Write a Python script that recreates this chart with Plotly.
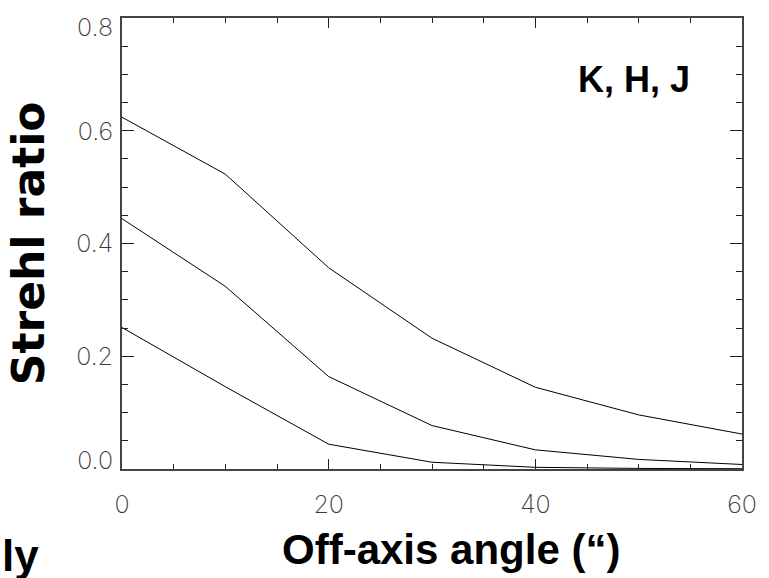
import plotly.graph_objects as go

# Data
angle = [0, 10, 20, 30, 40, 50, 60]
strehl_K = [0.624, 0.523, 0.357, 0.232, 0.145, 0.096, 0.062]
strehl_H = [0.444, 0.324, 0.164, 0.077, 0.034, 0.017, 0.008]
strehl_J = [0.251, 0.146, 0.044, 0.012, 0.003, 0.001, 0.0005]

x_ticks = [0, 20, 40, 60]
y_ticks = [0, 0.2, 0.4, 0.6, 0.8]
y_tick_labels = ["0.0", "0.2", "0.4", "0.6", "0.8"]
# the end labels sit slightly inside the frame in the reference
y_label_pos = [0.015, 0.2, 0.4, 0.6, 0.783]

W, H = 769, 578
L, R, T, B = 122, 19, 12, 109
pw, ph = W - L - R, H - T - B

fig = go.Figure()
for name, ys in [("K", strehl_K), ("H", strehl_H), ("J", strehl_J)]:
    fig.add_trace(go.Scatter(x=angle, y=ys, mode="lines", name=name,
                             line=dict(color="black", width=1), showlegend=False))

tickfont = dict(family="Inter, Liberation Sans, Arial", size=25, color="#3c3c3c", weight=200)

fig.update_xaxes(range=[0, 60], tickvals=x_ticks, ticklen=10, tickwidth=1,
                 minor=dict(dtick=5, ticks="inside", ticklen=5, tickcolor="#222"),
                 ticklabelstandoff=12, showline=True, linecolor="#444", linewidth=1.5,
                 mirror="ticks", ticks="inside", tickcolor="#222", showgrid=False,
                 zeroline=False, tickfont=tickfont)
fig.update_yaxes(range=[0, 0.8], tickvals=y_ticks, showticklabels=False,
                 ticklen=12, tickwidth=1,
                 minor=dict(dtick=0.05, ticks="inside", ticklen=6, tickcolor="#222"),
                 showline=True, linecolor="#444", linewidth=1.5, mirror="ticks",
                 ticks="inside", tickcolor="#222", showgrid=False, zeroline=False)
fig.update_layout(yaxis2=dict(overlaying="y", side="left", range=[0, 0.8],
                              tickvals=y_label_pos, ticktext=y_tick_labels,
                              ticks="", showline=False, showgrid=False, zeroline=False,
                              ticklabelstandoff=8, tickfont=tickfont))
fig.add_trace(go.Scatter(x=[None], y=[None], yaxis="y2", showlegend=False,
                         hoverinfo="skip"))

bold = "Liberation Sans, Arial, sans-serif"
fig.add_annotation(text="<b>K, H, J</b>", xref="paper", yref="paper",
                   x=(699 - L) / pw, y=(H - B - 52) / ph, showarrow=False,
                   font=dict(family=bold, size=36, color="black"))
fig.add_annotation(text="<b>Off-axis angle (“)</b>", xref="paper", yref="paper",
                   x=(455 - L) / pw, y=-(551 - (H - B)) / ph, showarrow=False,
                   xanchor="center", yanchor="middle",
                   font=dict(family=bold, size=42, color="black"))
fig.add_annotation(text="<b>ly</b>", xref="paper", yref="paper",
                   x=(40 - L) / pw, y=-(557 - (H - B)) / ph, showarrow=False,
                   xanchor="right", yanchor="middle",
                   font=dict(family=bold, size=44, color="black"))
fig.add_annotation(text="<b>Strehl ratio</b>", xref="paper", yref="paper",
                   x=(27 - L) / pw, y=(H - B - 240) / ph, showarrow=False,
                   textangle=-90, xanchor="center", yanchor="middle",
                   font=dict(family="DejaVu Sans, Liberation Sans, Arial", size=44,
                             color="black"))

fig.update_layout(width=W, height=H, margin=dict(l=L, r=R, t=T, b=B),
                  plot_bgcolor="white", paper_bgcolor="white")
fig.write_html("out.html")
